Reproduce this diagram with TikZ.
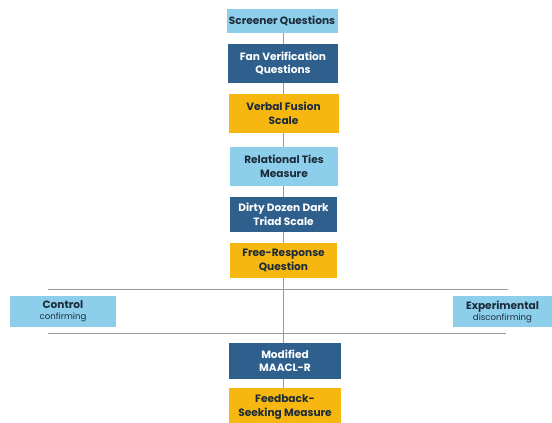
\documentclass[tikz,border=0pt]{standalone}
\usepackage{fontspec}
\setmainfont{Poppins}
\definecolor{lblue}{HTML}{8DCFEA}
\definecolor{dblue}{HTML}{2F5F8C}
\definecolor{gold}{HTML}{F6B711}
\definecolor{ink}{HTML}{1C2B3A}
\definecolor{linec}{HTML}{9A9A9A}
\tikzset{
  box/.style={minimum width=110pt, inner sep=0pt, align=center, font=\fontsize{10.6}{13.5}\selectfont\bfseries},
  lb/.style={box, fill=lblue, text=ink},
  db/.style={box, fill=dblue, text=white},
  gb/.style={box, fill=gold, text=ink},
  side/.style={fill=lblue, text=ink, align=center, inner sep=0pt, minimum height=31pt},
  conn/.style={draw=linec, line width=0.8pt}
}
\begin{document}
\begin{tikzpicture}[x=1pt,y=-1pt]
\useasboundingbox[fill=white] (0,0) rectangle (552,423);
\coordinate (top) at (283,9);
\coordinate (bot) at (283,423);
\coordinate (l1) at (48,289);
\coordinate (r1) at (508,289);
\coordinate (l2) at (48,333);
\coordinate (r2) at (506,333);
\draw[conn] (top) -- (bot);
\draw[conn] (l1) -- (r1);
\draw[conn] (l2) -- (r2);
\node[lb, minimum width=111pt, minimum height=24pt] (sq) at (282,21) {Screener Questions};
\node[db, minimum height=39pt] (fv) at (283,63.5) {Fan Verification\\Questions};
\node[gb, minimum height=39pt] (vf) at (283.5,113.5) {Verbal Fusion\\Scale};
\node[lb, minimum width=108pt, minimum height=39pt] (rt) at (284,166.5) {Relational Ties\\Measure};
\node[db, minimum width=107pt, minimum height=35pt] (dd) at (283.5,214.5) {Dirty Dozen Dark\\Triad Scale};
\node[gb, minimum width=107pt, minimum height=35pt] (fr) at (283.5,260.5) {Free-Response\\Question};
\node[side, minimum width=106pt] (ctl) at (63,311.5) {{\fontsize{10.6}{12}\selectfont\bfseries Control}\\[-1pt]{\fontsize{8.6}{10}\selectfont confirming}};
\node[side, minimum width=99pt] (exp) at (502.5,311.5) {{\fontsize{10.6}{12}\selectfont\bfseries Experimental}\\[-1pt]{\fontsize{8.6}{10}\selectfont disconfirming}};
\node[db, minimum width=112pt, minimum height=36pt] (mm) at (285,361) {Modified\\MAACL-R};
\node[gb, minimum width=112pt, minimum height=38pt] (fb) at (285,407) {Feedback-\\Seeking Measure};
\end{tikzpicture}
\end{document}
